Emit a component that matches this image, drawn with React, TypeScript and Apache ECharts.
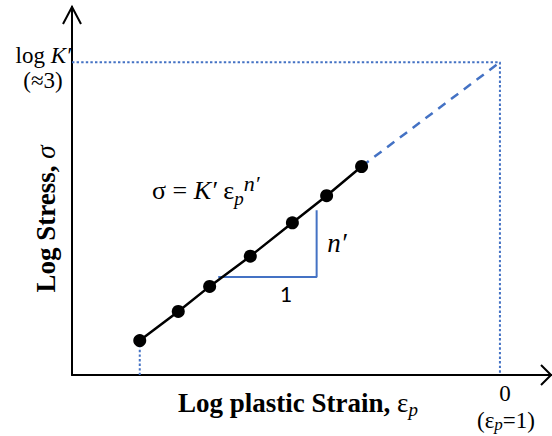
import React, { useEffect, useRef } from "react";
import * as echarts from "echarts";

// Schematic data (log-log plane): log plastic strain vs log stress
const logStrain = [-5.05, -4.51, -4.07, -3.5, -2.91, -2.43, -1.94];
const logStress = [0.33, 0.61, 0.85, 1.14, 1.46, 1.72, 2.0];
// Extrapolation of the fit to strain = 1 (log = 0) where stress = log K'
const extrapStrain = [-1.94, 0];
const extrapStress = [2.0, 3];
const logKPrime = 3;
const strainUnityLog = 0;
// Slope triangle (run 1, rise n')
const triangleX = [-3.95, -2.57, -2.57];
const triangleY = [0.94, 0.94, 1.58];
// Axis extents
const xMin = -6;
const xMax = 0.73;
const yMin = 0;
const yMax = 3.53;
// Tick-like labels
const yTickLabel = ["{a|log }{b|K′}", "(≈3)"];
const xTickLabel = ["0", "{a|(ε}{s|p}{a|=1)}"];

const BLUE = "#4472C4";
const SERIF = "'Liberation Serif', 'Times New Roman', serif";

export default function App() {
  const ref = useRef<HTMLDivElement>(null);
  useEffect(() => {
    if (!ref.current) return;
    const chart = echarts.init(ref.current, undefined, { renderer: "svg" });
    const zip = (xs: number[], ys: number[]) => xs.map((x, i) => [x, ys[i]]);
    const dotted = { color: BLUE, width: 2, type: [2.4, 2.2] as any };
    chart.setOption({
      animation: false,
      backgroundColor: "#fff",
      grid: { left: 72, right: 0, top: 7, bottom: 61, containLabel: false },
      xAxis: {
        type: "value",
        min: xMin,
        max: xMax,
        axisLine: { show: true, onZero: false, lineStyle: { color: "#000", width: 2 } },
        axisTick: { show: false },
        axisLabel: { show: false },
        splitLine: { show: false },
      },
      yAxis: {
        type: "value",
        min: yMin,
        max: yMax,
        axisLine: { show: true, onZero: false, lineStyle: { color: "#000", width: 2 } },
        axisTick: { show: false },
        axisLabel: { show: false },
        splitLine: { show: false },
      },
      series: [
        {
          type: "line",
          data: [
            [xMin, logKPrime],
            [strainUnityLog, logKPrime],
            [strainUnityLog, yMin],
          ],
          symbol: "none",
          lineStyle: dotted,
          silent: true,
        },
        {
          type: "line",
          data: [
            [logStrain[0], logStress[0]],
            [logStrain[0], yMin],
          ],
          symbol: "none",
          lineStyle: dotted,
          silent: true,
        },
        {
          type: "line",
          data: zip(extrapStrain, extrapStress),
          symbol: "none",
          lineStyle: { color: BLUE, width: 2.5, type: [9, 7] as any },
          silent: true,
        },
        {
          type: "line",
          data: zip(triangleX, triangleY),
          symbol: "none",
          lineStyle: { color: BLUE, width: 2 },
          silent: true,
        },
        {
          type: "line",
          data: zip(logStrain, logStress),
          symbol: "circle",
          symbolSize: 13,
          itemStyle: { color: "#000" },
          lineStyle: { color: "#000", width: 2.5 },
          silent: true,
        },
      ],
      graphic: [
        {
          type: "polyline",
          shape: { points: [[63, 24], [72, 7], [81, 24]] },
          style: { stroke: "#000", lineWidth: 2, fill: "none" },
        },
        {
          type: "polyline",
          shape: { points: [[541, 365], [551, 375], [541, 385]] },
          style: { stroke: "#000", lineWidth: 2, fill: "none" },
        },
        {
          type: "text",
          x: 71,
          y: 55,
          style: {
            text: yTickLabel[0],
            align: "right",
            verticalAlign: "middle",
            fill: "#000",
            rich: {
              a: { fontFamily: SERIF, fontSize: 23, fill: "#000" },
              b: { fontFamily: SERIF, fontSize: 23, fontStyle: "italic", fill: "#000" },
            },
          },
        },
        {
          type: "text",
          x: 43,
          y: 80,
          style: {
            text: yTickLabel[1],
            align: "center",
            verticalAlign: "middle",
            fill: "#000",
            fontFamily: SERIF,
            fontSize: 23,
          },
        },
        {
          type: "text",
          x: 505,
          y: 393,
          style: {
            text: xTickLabel[0],
            align: "center",
            verticalAlign: "middle",
            fill: "#000",
            fontFamily: SERIF,
            fontSize: 23,
          },
        },
        {
          type: "text",
          x: 506,
          y: 420,
          style: {
            text: xTickLabel[1],
            align: "center",
            verticalAlign: "middle",
            fill: "#000",
            rich: {
              a: { fontFamily: SERIF, fontSize: 23, lineHeight: 26, fill: "#000" },
              s: {
                fontFamily: SERIF,
                fontSize: 17,
                fontStyle: "italic",
                lineHeight: 18,
                verticalAlign: "bottom",
                fill: "#000",
              },
            },
          },
        },
        {
          type: "text",
          x: 298,
          y: 403,
          style: {
            text: "{b|Log plastic Strain, }{e|ε}{s|p}",
            align: "center",
            verticalAlign: "middle",
            fill: "#000",
            rich: {
              b: { fontFamily: SERIF, fontSize: 27, fontWeight: "bold", lineHeight: 32, fill: "#000" },
              e: { fontFamily: SERIF, fontSize: 27, lineHeight: 32, fill: "#000" },
              s: {
                fontFamily: SERIF,
                fontSize: 19,
                fontStyle: "italic",
                lineHeight: 20,
                verticalAlign: "bottom",
                fill: "#000",
              },
            },
          },
        },
        {
          type: "text",
          x: 46,
          y: 219,
          rotation: Math.PI / 2,
          style: {
            text: "{b|Log Stress, }{i|σ}",
            align: "center",
            verticalAlign: "middle",
            fill: "#000",
            rich: {
              b: { fontFamily: SERIF, fontSize: 27, fontWeight: "bold", fill: "#000" },
              i: { fontFamily: SERIF, fontSize: 27, fontStyle: "italic", fill: "#000" },
            },
          },
        },
        {
          type: "text",
          x: 152,
          y: 190,
          style: {
            text: "{m|σ = }{i|K′ }{m|ε}{sub|p}{sup|n′}",
            align: "left",
            verticalAlign: "middle",
            fill: "#000",
            rich: {
              m: { fontFamily: SERIF, fontSize: 26, lineHeight: 36, fill: "#000" },
              i: { fontFamily: SERIF, fontSize: 26, fontStyle: "italic", lineHeight: 36, fill: "#000" },
              sub: {
                fontFamily: SERIF,
                fontSize: 19,
                fontStyle: "italic",
                lineHeight: 20,
                verticalAlign: "bottom",
                fill: "#000",
              },
              sup: {
                fontFamily: SERIF,
                fontSize: 22,
                fontStyle: "italic",
                lineHeight: 12,
                verticalAlign: "top",
                fill: "#000",
              },
            },
          },
        },
        {
          type: "text",
          x: 286,
          y: 293,
          style: {
            text: "1",
            align: "center",
            verticalAlign: "middle",
            fill: "#000",
            fontFamily: "Lato, 'Open Sans', sans-serif",
            fontSize: 21,
          },
        },
        {
          type: "text",
          x: 337,
          y: 243,
          style: {
            text: "n′",
            align: "center",
            verticalAlign: "middle",
            fill: "#000",
            fontFamily: SERIF,
            fontStyle: "italic",
            fontSize: 27,
          },
        },
      ],
    });
    return () => chart.dispose();
  }, []);
  return (
    <div
      ref={ref}
      style={{ position: "fixed", left: 0, top: 0, width: 552, height: 436, background: "#fff" }}
    />
  );
}
